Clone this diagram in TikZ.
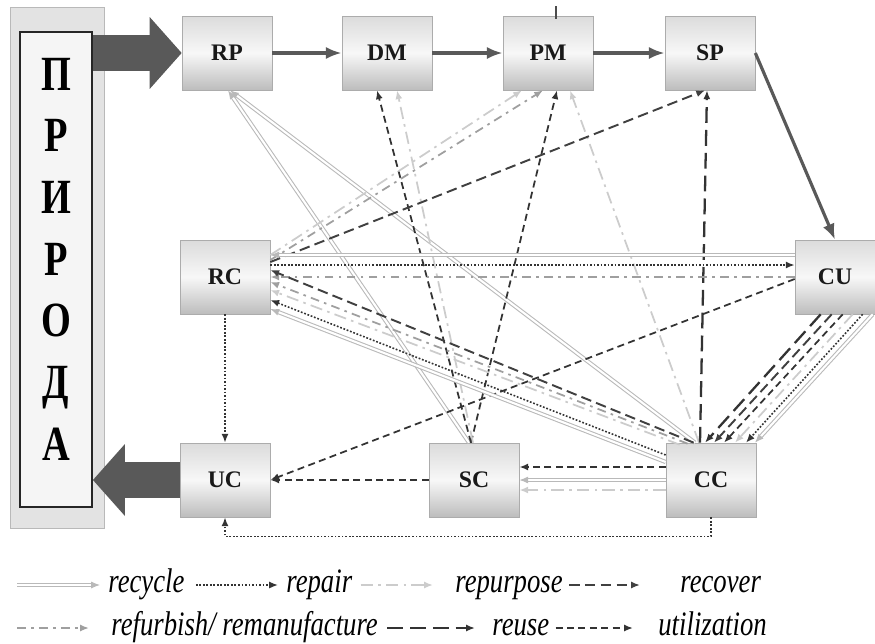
\documentclass[tikz,border=0pt]{standalone}
\usepackage{fontspec}
\setmainfont{Liberation Serif}
\newfontfamily\narrowfont[FakeStretch=0.78]{Liberation Serif}
\usetikzlibrary{arrows.meta,calc}

\tikzset{
  stage/.style={draw=gray!65, top color=gray!28, bottom color=gray!52, middle color=gray!6,
    minimum width=1.8cm, minimum height=1.48cm, inner sep=0pt,
    font=\fontsize{13.5}{13.5}\selectfont\bfseries, text=black!90},
  natout/.style={draw=gray!55, fill=gray!22, minimum width=1.88cm, minimum height=10.42cm},
  natin/.style={draw=black!85, line width=1.1pt, fill=gray!8, minimum width=1.44cm, minimum height=9.5cm},
  natletter/.style={inner sep=0pt, font=\narrowfont\bfseries\fontsize{28}{28}\selectfont},
  bigarrow/.style={draw=black!65, line width=0.72cm,
    -{Triangle[length=0.64cm,width=1.44cm,line width=0pt]}},
  flow/.style={draw=black!65, line width=1.8pt, -{Latex[length=9pt,width=7pt]}},
  recycle/.style={draw=gray!55, double=white, double distance=1.2pt, line width=0.6pt, ->},
  repair/.style={draw=black!80, line width=0.9pt, dash pattern=on 1pt off 1pt, ->},
  repurp/.style={draw=gray!40, line width=1pt, dash pattern=on 7pt off 3pt on 1.5pt off 3pt, ->},
  recover/.style={draw=black!75, line width=1.1pt, dash pattern=on 6pt off 3pt, ->},
  refurb/.style={draw=gray!75, line width=1pt, dash pattern=on 5pt off 3pt on 1.5pt off 3pt, ->},
  reuse/.style={draw=black!80, line width=1.3pt, dash pattern=on 9pt off 4pt, ->},
  utiliz/.style={draw=black!80, line width=1pt, dash pattern=on 4pt off 2.5pt, ->},
  legtext/.style={anchor=base west, inner sep=0pt, font=\narrowfont\itshape\fontsize{19.5}{19.5}\selectfont}
}

\begin{document}
\begin{tikzpicture}[x=0.02cm, y=-0.02cm, >={Latex[length=5pt,width=4pt]}]
\useasboundingbox (0,0) rectangle (875,643);

% nature
\node[natout] (nature) at (57,267.5) {};
\node[natin] (natin) at (56,269.5) {};
\foreach \ch [count=\i] in {П,Р,И,Р,О,Д,А}
  \node[natletter, anchor=base] (nl\i) at (56,28.3+61.7*\i) {\ch};

% stages
\node[stage] (RP) at (227,53) {RP};
\node[stage] (DM) at (387,53) {DM};
\node[stage] (PM) at (548,53) {PM};
\node[stage] (SP) at (710,53) {SP};
\node[stage] (RC) at (225,277) {RC};
\node[stage, minimum width=1.6cm] (CU) at (835,277) {CU};
\node[stage] (UC) at (225,480) {UC};
\node[stage] (SC) at (474,480) {SC};
\node[stage] (CC) at (711,480) {CC};

\draw[bigarrow] (natin.east |- RP) -- (RP.west);
\draw[bigarrow] (UC.west) -- (natin.east |- UC);

\draw[flow] (RP.east) -- (DM.west);
\draw[flow] (DM.east) -- (PM.west);
\draw[flow] (PM.east) -- (SP.west);
\draw[flow] (SP.east) -- (CU.north);
\draw[black!70, line width=0.6pt] ($(PM.north)+(8,3)$) -- ++(0,-13);

% back to the top row
\draw[recycle] ($(SC.north)+(-5,0)$) -- ($(RP.south)+(1,0)$);
\draw[recycle] ($(CC.north)+(-16,0)$) -- ($(RP.south)+(3,0)$);
\draw[utiliz] ($(SC.north)+(-3,0)$) -- ($(DM.south)+(-10,0)$);
\draw[utiliz] ($(SC.north)+(-3,0)$) -- ($(PM.south)+(9,0)$);
\draw[repurp] ($(SC.north)+(-1,0)$) -- ($(DM.south)+(10,0)$);
\draw[repurp] ($(CC.north)+(-12,0)$) -- ($(PM.south)+(22,0)$);
\draw[repurp] ($(RC.east)+(0,-22)$) -- ($(PM.south)+(-26,0)$);
\draw[refurb] ($(RC.east)+(0,-17)$) -- ($(PM.south)+(-5,0)$);
\draw[recover] ($(RC.east)+(0,-15)$) -- ($(SP.south)+(-5,0)$);
\draw[reuse] ($(CC.north)+(-11,0)$) -- ($(SP.south)+(-3,0)$);

% RC and CU
\draw[recycle] ($(CU.west)+(0,-22)$) -- ($(RC.east)+(0,-22)$);
\draw[repair] ($(RC.east)+(0,-12)$) -- ($(CU.west)+(0,-12)$);
\draw[refurb] (CU.west) -- (RC.east);
\draw[utiliz] ($(CU.west)+(0,2)$) -- (UC.east);

% CC to RC
\draw[recover] ($(CC.north west)+(28,0)$) -- ($(RC.east)+(0,-7)$);
\draw[refurb] ($(CC.north west)+(22,1)$) -- ($(RC.east)+(0,5)$);
\draw[repurp] ($(CC.north west)+(14,2)$) -- ($(RC.east)+(0,13)$);
\draw[repair] ($(CC.west)+(0,-25)$) -- ($(RC.east)+(0,23)$);
\draw[recycle] ($(CC.west)+(0,-18)$) -- ($(RC.east)+(0,32)$);

% CU to CC
\draw[reuse] ($(CU.south west)+(26,0)$) -- ($(CC.north)+(-6,0)$);
\draw[recover] ($(CU.south west)+(37,0)$) -- ($(CC.north)+(3,0)$);
\draw[utiliz] ($(CU.south west)+(48,0)$) -- ($(CC.north)+(13,0)$);
\draw[repurp] ($(CU.south west)+(58,0)$) -- ($(CC.north)+(24,0)$);
\draw[repair] ($(CU.south west)+(68,0)$) -- ($(CC.north)+(35,0)$);
\draw[recycle] ($(CU.south west)+(78,0)$) -- ($(CC.north)+(44,0)$);

% bottom row
\draw[utiliz] ($(CC.west)+(0,-13)$) -- ($(SC.east)+(0,-13)$);
\draw[recycle] (CC.west) -- (SC.east);
\draw[repurp] ($(CC.west)+(0,10)$) -- ($(SC.east)+(0,10)$);
\draw[utiliz] (SC.west) -- (UC.east);
\draw[repair] (RC.south) -- (UC.north);
\draw[repair] (CC.south) -- ++(0,19) -| (UC.south);

% legend
\node[legtext] (recy) at (108,592) {recycle};
\node[legtext] (repa) at (286,592) {repair};
\node[legtext] (repu) at (455,592) {repurpose};
\node[legtext] (reco) at (680,592) {recover};
\node[legtext] (refu) at (111,635) {refurbish/ remanufacture};
\node[legtext] (reus) at (492,635) {reuse};
\node[legtext] (util) at (658,635) {utilization};
\coordinate (lgA) at (17,585);
\coordinate (lgB) at (17,628);
\draw[recycle] (lgA) -- ($(lgA -| recy.west)+(-8,0)$);
\draw[repair] ($(lgA -| recy.east)+(11,0)$) -- ($(lgA -| repa.west)+(-8,0)$);
\draw[repurp] ($(lgA -| repa.east)+(8,0)$) -- ($(lgA -| repu.west)+(-22,0)$);
\draw[recover] ($(lgA -| repu.east)+(6,0)$) -- ($(lgA -| reco.west)+(-40,0)$);
\draw[refurb] (lgB) -- ($(lgB -| refu.west)+(-22,0)$);
\draw[reuse] ($(lgB -| refu.east)+(9,0)$) -- ($(lgB -| reus.west)+(-17,0)$);
\draw[utiliz] ($(lgB -| reus.east)+(6,0)$) -- ($(lgB -| util.west)+(-25,0)$);
\end{tikzpicture}
\end{document}
